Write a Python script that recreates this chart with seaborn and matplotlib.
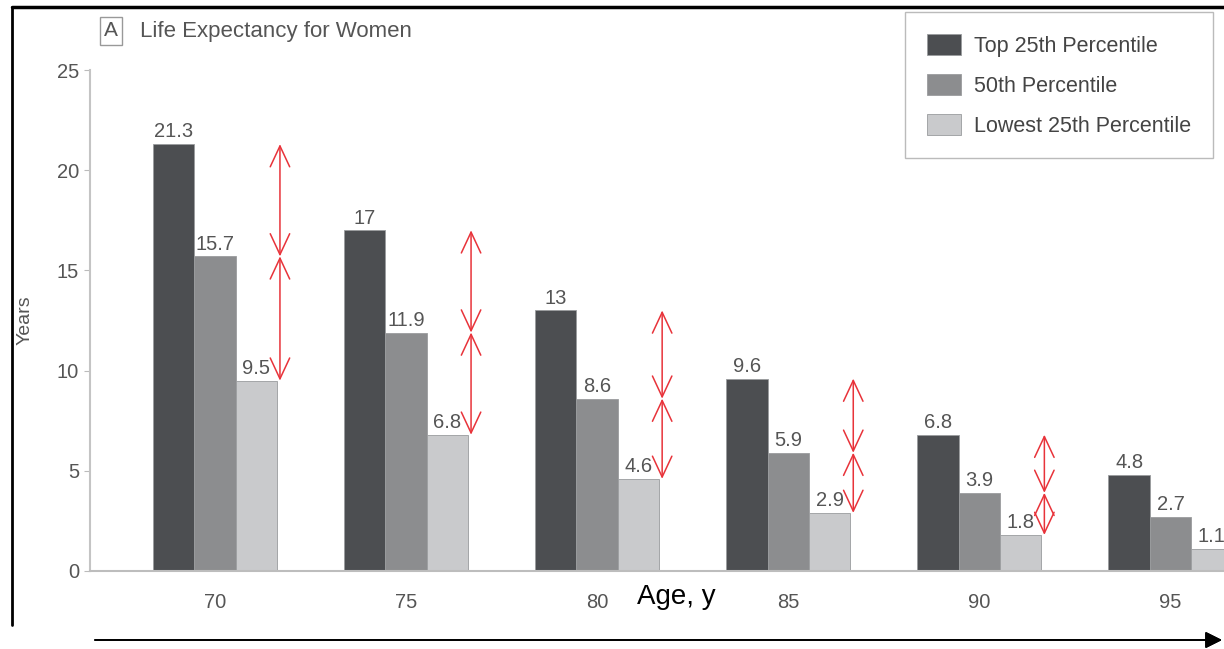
import pandas as pd
import matplotlib.pyplot as plt
import seaborn as sns
from matplotlib.lines import Line2D

# data
ages = ["70", "75", "80", "85", "90", "95"]
top25 = [21.3, 17, 13, 9.6, 6.8, 4.8]
pct50 = [15.7, 11.9, 8.6, 5.9, 3.9, 2.7]
low25 = [9.5, 6.8, 4.6, 2.9, 1.8, 1.1]
groups = ["Top 25th Percentile", "50th Percentile", "Lowest 25th Percentile"]
colors = ["#4b4e52", "#8b8d90", "#c8cacc"]

df = pd.DataFrame({
    "Age": ages * 3,
    "Years": top25 + pct50 + low25,
    "Group": [g for g in groups for _ in ages],
})

sns.set_style("white")
plt.rcParams["font.family"] = ["Liberation Sans", "DejaVu Sans"]

fig = plt.figure(figsize=(12.24, 6.49), dpi=100)
ax = fig.add_axes([90 / 1224, 1 - 571 / 649, 1 - 90 / 1224, (571 - 70) / 649])

sns.barplot(data=df, x="Age", y="Years", hue="Group", order=ages, hue_order=groups,
            palette=colors, width=0.65, edgecolor="#9a9c9e", linewidth=0.6, ax=ax)

for c in ax.containers:
    labels = [f"{v:g}" for v in c.datavalues]
    ax.bar_label(c, labels=labels, padding=2, fontsize=14.5, color="#555555")

# red double arrows between the percentile levels (skip the last group)
for i in range(len(ages) - 1):
    x = i + 0.34
    for a, b in [(top25[i], pct50[i]), (pct50[i], low25[i])]:
        ax.annotate("", xy=(x, b), xytext=(x, a),
                    arrowprops=dict(arrowstyle="<->,head_length=1.5,head_width=0.7",
                                    color="#e8333a", lw=1.1, shrinkA=0, shrinkB=0))

ax.set_ylim(0, 25)
ax.set_xlim(-0.654, 5.28)
ax.set_yticks([0, 5, 10, 15, 20, 25])
ax.tick_params(axis="y", left=True, length=4, width=0.8, color="#bbbbbb",
               labelsize=14.5, labelcolor="#555555", pad=4)
ax.tick_params(axis="x", bottom=False, labelsize=14.5, labelcolor="#555555", pad=12)
for s in ["top", "right"]:
    ax.spines[s].set_visible(False)
ax.spines["left"].set_color("#c4c4c4")
ax.spines["bottom"].set_color("#bdbdbd")
ax.spines["left"].set_linewidth(1.5)
ax.spines["bottom"].set_linewidth(1.5)
ax.set_xlabel("")
ax.set_ylabel("")

leg = ax.legend(loc="upper right", bbox_to_anchor=(1213 / 1224, 1 - 12 / 649),
                bbox_transform=fig.transFigure, borderaxespad=0, fontsize=15.5,
                frameon=True, fancybox=False, edgecolor="#aaaaaa",
                handlelength=1.6, handleheight=1.15, labelspacing=0.8,
                borderpad=1.0, handletextpad=0.6)
leg.get_frame().set_linewidth(1.0)
for t in leg.get_texts():
    t.set_color("#444444")

fig.text(25 / 1224, 1 - 320 / 649, "Years", rotation=90, ha="center", va="center",
         fontsize=14, color="#555555")
fig.text(111 / 1224, 1 - 31 / 649, "A", ha="center", va="center", fontsize=15,
         color="#555555",
         bbox=dict(boxstyle="square,pad=0.2", fc="white", ec="#999999", lw=1))
fig.text(140 / 1224, 1 - 31 / 649, "Life Expectancy for Women", ha="left", va="center",
         fontsize=16, color="#555555")
fig.text(676 / 1224, 1 - 597 / 649, "Age, y", ha="center", va="center",
         fontsize=20, color="black")

# outer frame lines and the long arrow under the chart
fig.add_artist(Line2D([12 / 1224, 1], [1 - 7 / 649, 1 - 7 / 649], color="black", lw=2.5))
fig.add_artist(Line2D([12 / 1224, 12 / 1224], [1 - 7 / 649, 1 - 625 / 649], color="black", lw=2.0))
fig.add_artist(plt.annotate("", xy=(1222 / 1224, 1 - 640 / 649), xytext=(95 / 1224, 1 - 640 / 649),
                            xycoords="figure fraction", textcoords="figure fraction",
                            arrowprops=dict(arrowstyle="-|>,head_length=1.0,head_width=0.5",
                                            color="black", lw=1.3, shrinkA=0, shrinkB=0)))

fig.savefig("out.png", dpi=100)
